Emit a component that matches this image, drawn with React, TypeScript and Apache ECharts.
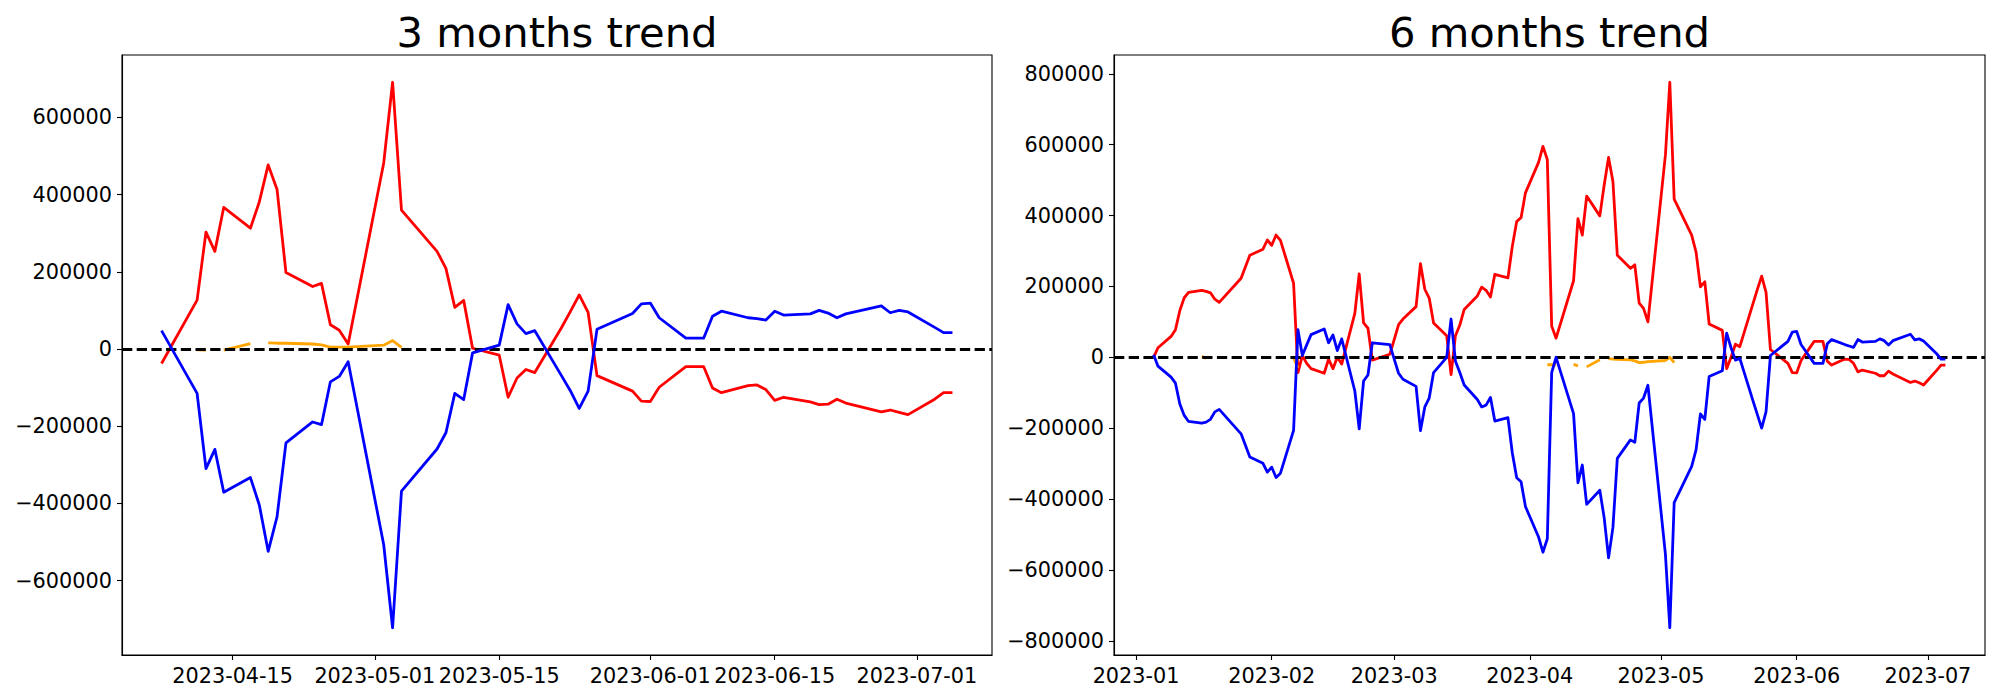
import React, { useEffect, useRef } from "react";
import * as echarts from "echarts";

// ---------- 3 months trend ----------
const dates3 = [
  "2023-04-07", "2023-04-11", "2023-04-12", "2023-04-13", "2023-04-14", "2023-04-17", "2023-04-18",
  "2023-04-19", "2023-04-20", "2023-04-21", "2023-04-24", "2023-04-25", "2023-04-26", "2023-04-27",
  "2023-04-28", "2023-05-02", "2023-05-03", "2023-05-04", "2023-05-08", "2023-05-09", "2023-05-10",
  "2023-05-11", "2023-05-12", "2023-05-15", "2023-05-16", "2023-05-17", "2023-05-18", "2023-05-19",
  "2023-05-22", "2023-05-23", "2023-05-24", "2023-05-25", "2023-05-26", "2023-05-30", "2023-05-31",
  "2023-06-01", "2023-06-02", "2023-06-05", "2023-06-06", "2023-06-07", "2023-06-08", "2023-06-09",
  "2023-06-12", "2023-06-13", "2023-06-14", "2023-06-15", "2023-06-16", "2023-06-19", "2023-06-20",
  "2023-06-21", "2023-06-22", "2023-06-23", "2023-06-27", "2023-06-28", "2023-06-29", "2023-06-30",
  "2023-07-03", "2023-07-04", "2023-07-05",
];
const red3 = [
  -37600, 126700, 303000, 253000, 367000, 313000, 381000,
  477000, 413000, 198000, 162000, 170000, 63000, 48500,
  12900, 482000, 691000, 360000, 253000, 209000, 108000,
  126000, 2000, -16000, -125000, -75000, -53000, -61000,
  55000, 97000, 140000, 95000, -69000, -109000, -135000,
  -136000, -99000, -45500, -45500, -45500, -101000, -113000,
  -95000, -93000, -105000, -133000, -125000, -137000, -144000,
  -143000, -130000, -140000, -163000, -158000, -164000, -170000,
  -130000, -113000, -113000,
];
const blue3 = [
  47500, -115000, -310000, -260000, -371000, -333000, -404000,
  -524000, -434000, -243000, -189000, -196000, -85000, -71000,
  -33000, -507000, -722000, -368000, -259000, -217000, -115000,
  -131000, -10000, 10000, 115000, 65000, 40000, 47500,
  -69000, -108000, -154000, -109000, 51000, 92000, 117000,
  119000, 81000, 28000, 28000, 28000, 85000, 98000,
  81000, 79000, 75000, 98000, 88000, 91000, 100000,
  93000, 81000, 91000, 112000, 94000, 100000, 96000,
  56000, 42500, 42500,
];
const orange3Dates = [
  "2023-04-07", "2023-04-11", "2023-04-12", "2023-04-13", "2023-04-14", "2023-04-17", "2023-04-18",
  "2023-04-19", "2023-04-20", "2023-04-21", "2023-04-24", "2023-04-25", "2023-04-26", "2023-04-27",
  "2023-04-28", "2023-05-02", "2023-05-03", "2023-05-04", "2023-05-08",
];
const orange3 = [
  null, -2000, -3000, null, -3000, 14000, null,
  16000, 15000, 15000, 13000, 11000, 5000, 5000,
  5000, 10000, 22000, 4000, null,
];
const ticks3 = ["2023-04-15", "2023-05-01", "2023-05-15", "2023-06-01", "2023-06-15", "2023-07-01"];
const yTicks3 = [-600000, -400000, -200000, 0, 200000, 400000, 600000];

// ---------- 6 months trend ----------
const dates6 = [
  "2023-01-05", "2023-01-06", "2023-01-09", "2023-01-10", "2023-01-11", "2023-01-12", "2023-01-13",
  "2023-01-16", "2023-01-17", "2023-01-18", "2023-01-19", "2023-01-20", "2023-01-25", "2023-01-27",
  "2023-01-30", "2023-01-31", "2023-02-01", "2023-02-02", "2023-02-03", "2023-02-06", "2023-02-07",
  "2023-02-08", "2023-02-09", "2023-02-10", "2023-02-13", "2023-02-14", "2023-02-15", "2023-02-16",
  "2023-02-17", "2023-02-20", "2023-02-21", "2023-02-22", "2023-02-23", "2023-02-24", "2023-02-28",
  "2023-03-01", "2023-03-02", "2023-03-03", "2023-03-06", "2023-03-07", "2023-03-08", "2023-03-09",
  "2023-03-10", "2023-03-13", "2023-03-14", "2023-03-15", "2023-03-16", "2023-03-17", "2023-03-20",
  "2023-03-21", "2023-03-22", "2023-03-23", "2023-03-24", "2023-03-27", "2023-03-28", "2023-03-29",
  "2023-03-30", "2023-03-31", "2023-04-03", "2023-04-04", "2023-04-05", "2023-04-06", "2023-04-07",
  "2023-04-11", "2023-04-12", "2023-04-13", "2023-04-14", "2023-04-17", "2023-04-18", "2023-04-19",
  "2023-04-20", "2023-04-21", "2023-04-24", "2023-04-25", "2023-04-26", "2023-04-27", "2023-04-28",
  "2023-05-02", "2023-05-03", "2023-05-04", "2023-05-08", "2023-05-09", "2023-05-10", "2023-05-11",
  "2023-05-12", "2023-05-15", "2023-05-16", "2023-05-17", "2023-05-18", "2023-05-19", "2023-05-22",
  "2023-05-23", "2023-05-24", "2023-05-25", "2023-05-26", "2023-05-30", "2023-05-31", "2023-06-01",
  "2023-06-02", "2023-06-05", "2023-06-06", "2023-06-07", "2023-06-08", "2023-06-09", "2023-06-12",
  "2023-06-13", "2023-06-14", "2023-06-15", "2023-06-16", "2023-06-19", "2023-06-20", "2023-06-21",
  "2023-06-22", "2023-06-23", "2023-06-27", "2023-06-28", "2023-06-29", "2023-06-30", "2023-07-03",
  "2023-07-04", "2023-07-05",
];
const red6 = [
  0, 27000, 59000, 78000, 132000, 168000, 183000,
  189000, 186000, 182000, 164000, 155000, 223000, 288000,
  305000, 331000, 316000, 345000, 330000, 209000, -43000,
  5000, -17000, -32000, -45000, -5000, -32000, 0,
  -19000, 124000, 235000, 97000, 82000, -8000, 8600,
  50000, 92000, 108000, 143000, 264000, 192000, 167000,
  97000, 61000, -49000, 61000, 91000, 135000, 173000,
  198000, 189000, 170000, 234000, 224000, 313000, 383000,
  394000, 464000, 550000, 595000, 558000, 88000, 54000,
  216000, 391000, 345000, 455000, 399000, 486000, 564000,
  496000, 288000, 251000, 261000, 153000, 138000, 100000,
  571000, 776000, 446000, 345000, 297000, 199000, 213000,
  94000, 76000, -32000, 0, 37000, 30000, 151000,
  191000, 229000, 183000, 22000, -17000, -43000, -44000,
  -9000, 45000, 45000, 45000, -11000, -22000, -5000,
  -6000, -17000, -41000, -36000, -45000, -52000, -52000,
  -39000, -47000, -71000, -67000, -72000, -78000, -37000,
  -22000, -22000,
];
const blue6 = [
  7000, -25000, -56000, -73000, -132000, -164000, -181000,
  -186000, -183000, -175000, -154000, -147000, -216000, -281000,
  -299000, -324000, -310000, -339000, -327000, -206000, 78000,
  5000, 35000, 64000, 80000, 41000, 63000, 19000,
  52000, -95000, -202000, -67000, -50000, 41000, 36000,
  -5000, -45000, -62000, -82000, -207000, -140000, -115000,
  -43000, 0, 108000, -11000, -43000, -78000, -119000,
  -140000, -135000, -113000, -180000, -170000, -270000, -340000,
  -351000, -421000, -507000, -550000, -512000, -43000, 0,
  -159000, -354000, -304000, -415000, -375000, -453000, -566000,
  -480000, -285000, -233000, -240000, -129000, -115000, -79000,
  -556000, -763000, -410000, -308000, -261000, -160000, -175000,
  -54000, -38000, 68000, 27000, -8000, -3000, -122000,
  -161000, -200000, -153000, 5000, 45000, 71000, 73000,
  36000, -17000, -17000, -17000, 38000, 50000, 36000,
  32000, 28000, 50000, 43000, 45000, 52000, 47000,
  35000, 47000, 65000, 49000, 52000, 46000, 10000,
  -5000, -5000,
];
const orange6Dates = [
  "2023-01-13", "2023-01-16", "2023-01-17", "2023-01-18",
  "2023-02-03", "2023-02-06", "2023-02-07", "2023-02-08",
  "2023-04-04", "2023-04-05", "2023-04-06", "2023-04-07", "2023-04-10", "2023-04-11", "2023-04-12",
  "2023-04-13", "2023-04-14", "2023-04-17", "2023-04-18", "2023-04-19", "2023-04-20", "2023-04-21",
  "2023-04-24", "2023-04-25", "2023-04-26", "2023-04-27", "2023-04-28", "2023-05-02", "2023-05-03",
  "2023-05-04", "2023-05-08",
];
const orange6 = [
  null, 3000, -3000, null,
  null, -2000, -30000, null,
  null, -21000, -21000, -21000, null, -20000, -24000,
  null, -27000, -7000, null, -4000, -5000, -6000,
  -7500, -10000, -15000, -14000, -12000, -9000, 0,
  -15000, null,
];
const ticks6 = ["2023-01-01", "2023-02-01", "2023-03-01", "2023-04-01", "2023-05-01", "2023-06-01", "2023-07-01"];
const yTicks6 = [-800000, -600000, -400000, -200000, 0, 200000, 400000, 600000, 800000];

const titles = ["3 months trend", "6 months trend"];

// ---------- helpers ----------
const ts = (s: string) => Date.UTC(+s.slice(0, 4), +s.slice(5, 7) - 1, +s.slice(8, 10));
const pad2 = (n: number) => (n < 10 ? "0" + n : "" + n);
const fmtDay = (v: number) => {
  const d = new Date(v);
  return `${d.getUTCFullYear()}-${pad2(d.getUTCMonth() + 1)}-${pad2(d.getUTCDate())}`;
};
const fmtMonth = (v: number) => {
  const d = new Date(v);
  return `${d.getUTCFullYear()}-${pad2(d.getUTCMonth() + 1)}`;
};
const fmtNum = (v: number) => (v < 0 ? "\u2212" + Math.abs(v) : String(v));

const FONT = "DejaVu Sans";
const LW = 2.8;

function xRange(dates: string[]) {
  const a = ts(dates[0]);
  const b = ts(dates[dates.length - 1]);
  const m = (b - a) * 0.05;
  return [a - m, b + m];
}
function yRange(...arrs: (number | null)[][]) {
  let lo = Infinity, hi = -Infinity;
  arrs.forEach((arr) => arr.forEach((v) => {
    if (v === null) return;
    lo = Math.min(lo, v);
    hi = Math.max(hi, v);
  }));
  const m = (hi - lo) * 0.05;
  return [lo - m, hi + m];
}

const grids = [
  { left: 122, top: 55, width: 870, height: 600 },
  { left: 1114, top: 55, width: 871, height: 600 },
];

export default function App() {
  const ref = useRef<HTMLDivElement>(null);
  useEffect(() => {
    if (!ref.current) return;
    const chart = echarts.init(ref.current, null, { renderer: "svg" });
    const [x3min, x3max] = xRange(dates3);
    const [x6min, x6max] = xRange(dates6);
    const [y3min, y3max] = yRange(red3, blue3, orange3);
    const [y6min, y6max] = yRange(red6, blue6, orange6);

    const labelStyle = { color: "#000", fontFamily: FONT, fontSize: 20.8 };
    const mkX = (idx: number, min: number, max: number, ticks: string[], fmt: (v: number) => string) => ({
      type: "value",
      gridIndex: idx,
      min,
      max,
      axisLine: { show: true, onZero: false, lineStyle: { color: "#000", width: 1.1 } },
      axisTick: { show: true, length: 5, lineStyle: { color: "#000", width: 1.1 }, customValues: ticks.map(ts) },
      axisLabel: { ...labelStyle, margin: 10, customValues: ticks.map(ts), formatter: (v: number) => fmt(v), hideOverlap: false },
      splitLine: { show: false },
    });
    const mkY = (idx: number, min: number, max: number, ticks: number[]) => ({
      type: "value",
      gridIndex: idx,
      min,
      max,
      axisLine: { show: true, onZero: false, lineStyle: { color: "#000", width: 1.1 } },
      axisTick: { show: true, length: 5, lineStyle: { color: "#000", width: 1.1 }, customValues: ticks },
      axisLabel: { ...labelStyle, margin: 10, customValues: ticks, formatter: (v: number) => fmtNum(v), hideOverlap: false },
      splitLine: { show: false },
    });
    const line = (idx: number, dates: string[], vals: (number | null)[], color: string, z: number, extra: any = {}) => ({
      type: "line",
      xAxisIndex: idx,
      yAxisIndex: idx,
      data: dates.map((d, i) => [ts(d), vals[i]]),
      symbol: "none",
      showSymbol: false,
      connectNulls: false,
      silent: true,
      z,
      lineStyle: { color, width: LW, join: "round", cap: "butt" },
      itemStyle: { color },
      ...extra,
    });
    const zeroLine = {
      symbol: ["none", "none"],
      silent: true,
      label: { show: false },
      lineStyle: { color: "#000", width: LW, type: [10.3, 4.4] },
      data: [{ yAxis: 0 }],
    };

    chart.setOption({
      animation: false,
      backgroundColor: "#fff",
      grid: grids.map((g) => ({ ...g, show: true, borderColor: "#000", borderWidth: 1.1, backgroundColor: "transparent" })),
      xAxis: [mkX(0, x3min, x3max, ticks3, fmtDay), mkX(1, x6min, x6max, ticks6, fmtMonth)],
      yAxis: [mkY(0, y3min, y3max, yTicks3), mkY(1, y6min, y6max, yTicks6)],
      series: [
        line(0, dates3, red3, "#ff0000", 3, { markLine: zeroLine }),
        line(0, orange3Dates, orange3, "#ffa500", 4),
        line(0, dates3, blue3, "#0000ff", 5),
        line(1, dates6, red6, "#ff0000", 3, { markLine: zeroLine }),
        line(1, orange6Dates, orange6, "#ffa500", 4),
        line(1, dates6, blue6, "#0000ff", 5),
      ],
      graphic: grids.map((g, i) => ({
        type: "text",
        x: g.left + g.width / 2,
        y: 32,
        silent: true,
        style: {
          text: titles[i],
          fill: "#000",
          font: `41.7px "${FONT}"`,
          align: "center",
          verticalAlign: "middle",
        },
      })),
    });
    return () => chart.dispose();
  }, []);
  return (
    <div
      ref={ref}
      style={{ position: "fixed", left: 0, top: 0, width: 2000, height: 700, background: "#fff" }}
    />
  );
}
